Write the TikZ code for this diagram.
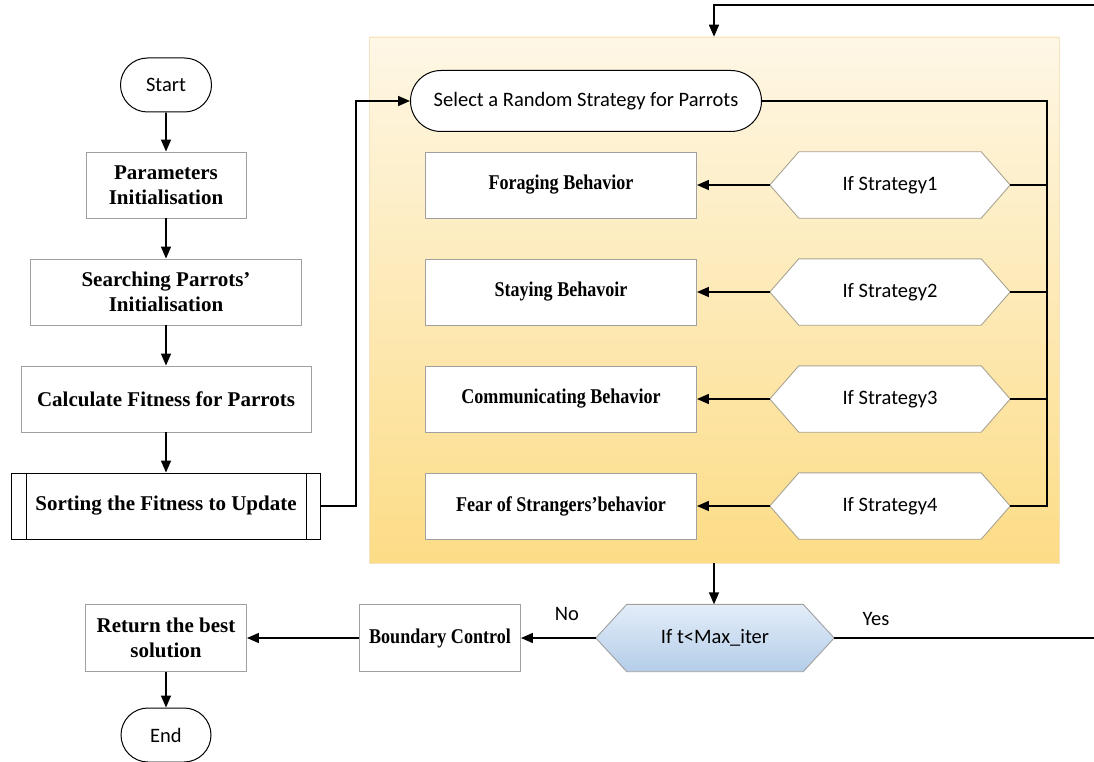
\documentclass[tikz,border=0pt]{standalone}
\usepackage{fontspec}
\usepackage{graphicx}
\setmainfont{Liberation Serif}
\newfontfamily\calib{Carlito}
\newfontfamily\condserif[FakeStretch=0.86,Ligatures=TeX]{Liberation Serif}
\usetikzlibrary{arrows.meta,shapes.misc,backgrounds,calc}
\definecolor{boxgray}{HTML}{A0A0A0}
\definecolor{hexgray}{HTML}{A8A392}
\definecolor{bgtop}{HTML}{FEF7E6}
\definecolor{bgmid}{HTML}{FDE6A8}
\definecolor{bgbot}{HTML}{FCDC86}
\definecolor{bgedge}{HTML}{F3E3BE}
\definecolor{dectop}{HTML}{E3EDF8}
\definecolor{decbot}{HTML}{B4CDE9}
\newcommand{\hexout}[3]{\path[#3] (#1.west) -- ([xshift=#2]#1.north west) -- ([xshift=-#2]#1.north east) -- (#1.east) -- ([xshift=-#2]#1.south east) -- ([xshift=#2]#1.south west) -- cycle;}
\tikzset{
  calfont/.style={font=\calib\fontsize{20.5}{24}\selectfont},
  boldfont/.style={font=\bfseries\fontsize{21}{25}\selectfont},
  condfont/.style={font=\condserif\bfseries\fontsize{21}{24}\selectfont},
  terminal/.style={rounded rectangle, draw=black, line width=1pt, fill=white, inner sep=0pt, calfont},
  procbox/.style={rectangle, draw=boxgray, line width=0.9pt, fill=white, inner sep=0pt, align=center, boldfont},
  behbox/.style={rectangle, draw=boxgray, line width=0.9pt, fill=white, inner sep=0pt, minimum width=271pt, minimum height=66pt, condfont},
  hexnode/.style={rectangle, inner sep=0pt, minimum width=240pt, minimum height=66pt, calfont},
  line/.style={draw=black, line width=1.6pt},
  arr/.style={line, -{Triangle[length=12pt,width=10pt]}},
  lbl/.style={calfont, inner sep=0pt}
}
\begin{document}
\begin{tikzpicture}[x=1pt,y=-1pt]
\useasboundingbox (0,0) rectangle (1094,762);
\begin{scope}[on background layer]
\node[shade, top color=bgtop, middle color=bgmid, bottom color=bgbot, draw=bgedge, line width=0.6pt, minimum width=690pt, minimum height=526pt, inner sep=0pt] (bg) at (714,300) {};
\end{scope}

% left column
\node[terminal, minimum width=91pt, minimum height=54pt] (start) at (166,85) {Start};
\node[procbox, minimum width=160pt, minimum height=66pt] (param) at (166,185) {Parameters\\Initialisation};
\node[procbox, minimum width=271pt, minimum height=66pt] (search) at (166,292) {Searching Parrots’\\Initialisation};
\node[procbox, minimum width=290pt, minimum height=66pt] (calc) at (166,399) {Calculate Fitness for Parrots};
\node[procbox, draw=black, minimum width=309pt, minimum height=66pt] (sort) at (166,506) {Sorting the Fitness to Update};
\draw[black, line width=0.9pt] ([xshift=15pt]sort.north west) -- ([xshift=15pt]sort.south west);
\draw[black, line width=0.9pt] ([xshift=-15pt]sort.north east) -- ([xshift=-15pt]sort.south east);
\node[procbox, minimum width=161pt, minimum height=67pt] (ret) at (166,638) {Return the best\\solution};
\node[terminal, minimum width=90pt, minimum height=54pt] (end) at (166,735) {End};

% strategy block
\node[terminal, minimum width=351pt, minimum height=61pt] (sel) at (586,101) {Select a Random Strategy for Parrots};
\node[behbox] (b1) at (561,185) {Foraging Behavior};
\node[behbox] (b2) at (561,292) {Staying Behavoir};
\node[behbox] (b3) at (561,399) {Communicating Behavior};
\node[behbox] (b4) at (561,506) {Fear of Strangers’behavior};
\node[hexnode] (s1) at (890,185) {If Strategy1};
\node[hexnode] (s2) at (890,292) {If Strategy2};
\node[hexnode] (s3) at (890,399) {If Strategy3};
\node[hexnode] (s4) at (890,506) {If Strategy4};
\node[hexnode, minimum width=238pt, minimum height=67pt] (dec) at (715,638) {If t<Max\_iter};
\node[behbox, minimum width=161pt, minimum height=67pt] (bound) at (440,638) {Boundary Control};

\begin{scope}[on background layer]
\hexout{s1}{29pt}{draw=hexgray, line width=0.9pt, fill=white}
\hexout{s2}{29pt}{draw=hexgray, line width=0.9pt, fill=white}
\hexout{s3}{29pt}{draw=hexgray, line width=0.9pt, fill=white}
\hexout{s4}{29pt}{draw=hexgray, line width=0.9pt, fill=white}
\hexout{dec}{31pt}{draw=boxgray, line width=0.9pt, top color=dectop, bottom color=decbot}
\end{scope}

\coordinate (bus) at (1047,101);
\coordinate (topR) at (1094,5);
\coordinate (yesR) at (1094,638);

% connectors
\draw[arr] (start) -- (param);
\draw[arr] (param) -- (search);
\draw[arr] (search) -- (calc);
\draw[arr] (calc) -- (sort);
\draw[arr] (sort.east) -- ++(35,0) |- (sel.west);
\draw[line] (sel.east) -- (bus) -- (bus |- s4.east) -- (s4.east);
\draw[line] (s1.east) -- (s1.east -| bus);
\draw[line] (s2.east) -- (s2.east -| bus);
\draw[line] (s3.east) -- (s3.east -| bus);
\draw[arr] (s1.west) -- (b1.east);
\draw[arr] (s2.west) -- (b2.east);
\draw[arr] (s3.west) -- (b3.east);
\draw[arr] (s4.west) -- (b4.east);
\draw[arr] (topR) -| (bg.north);
\draw[arr] (bg.south) -- (bg.south |- dec.north);
\draw[arr] (dec.west) -- (bound.east);
\draw[line] (dec.east) -- (yesR);
\draw[arr] (bound.west) -- (ret.east);
\draw[arr] (ret) -- (end);
\node[lbl] (no) at (567,614) {No};
\node[lbl] (yes) at (876,619) {Yes};
\end{tikzpicture}
\end{document}
